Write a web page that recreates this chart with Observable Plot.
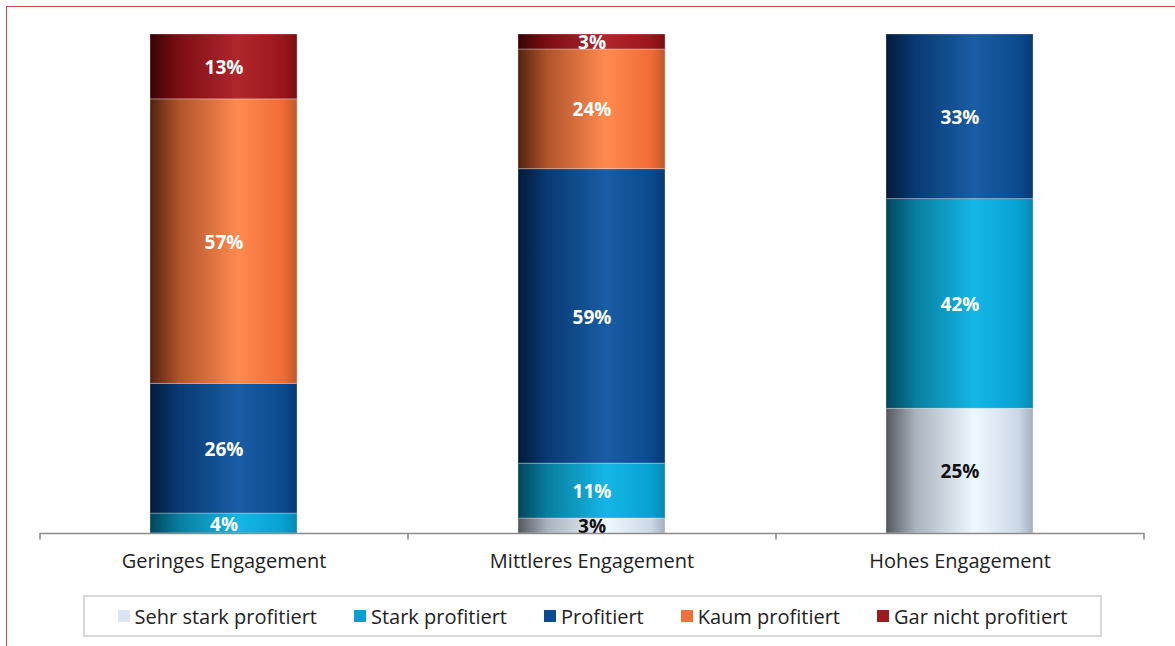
<!DOCTYPE html>
<html>
<head>
<meta charset="utf-8">
<script src="https://cdn.jsdelivr.net/npm/d3@7"></script>
<script src="https://cdn.jsdelivr.net/npm/@observablehq/plot@0.6"></script>
<style>
  html, body { margin: 0; padding: 0; background: #fff; overflow: hidden; }
  body { width: 1175px; height: 646px; position: relative; font-family: "Open Sans", sans-serif; }
  #frame { position: absolute; left: 6px; top: 6px; width: 1300px; height: 800px; border: 1.5px solid #c0504d; box-sizing: border-box; }
  #chart { position: absolute; left: 0; top: 0; }
  #legend { position: absolute; left: 83px; top: 595px; width: 1019px; height: 42px; box-sizing: border-box;
    border: 2px solid #d9d9d9; background: #fff; display: flex; align-items: center; justify-content: center; gap: 37px;
    font-size: 20px; color: #222; }
  #legend .item { display: flex; align-items: center; gap: 5px; }
  #legend .sw { width: 12px; height: 12px; display: inline-block; }
</style>
</head>
<body>
<div id="frame"></div>
<div id="chart"></div>
<div id="legend"></div>
<svg width="0" height="0" style="position:absolute">
  <defs id="gdefs"></defs>
</svg>
<script>
// ---- data ----
const categories = ["Geringes Engagement", "Mittleres Engagement", "Hohes Engagement"];
const series = ["Sehr stark profitiert", "Stark profitiert", "Profitiert", "Kaum profitiert", "Gar nicht profitiert"];
const sehrStark = [0, 3, 25];
const stark = [4, 11, 42];
const profitiert = [26, 59, 33];
const kaum = [57, 24, 0];
const garNicht = [13, 3, 0];
const legendColors = ["#dce6f2", "#0aa0d0", "#0c4a93", "#f0703a", "#a0191e"];
const labelColors = ["#111", "#fff", "#fff", "#fff", "#fff"];
// gradient stops per series: [left dark, mid-dark, highlight, base, right edge]
const gradients = [
  ["#55585e", "#a9b2bd", "#eef8ff", "#ccd8e6", "#a4afbd"],
  ["#03455a", "#087f9f", "#14b6e6", "#06a2d2", "#0688b3"],
  ["#031a38", "#083a73", "#1a5da4", "#0a4a90", "#073a75"],
  ["#52240f", "#b0542b", "#ff8a4f", "#ef6c35", "#c4582b"],
  ["#380406", "#7d0e13", "#b1262d", "#9a161c", "#7a0f14"]
];

const valuesBySeries = [sehrStark, stark, profitiert, kaum, garNicht];
const data = [];
series.forEach((s, si) => categories.forEach((c, ci) => {
  data.push({category: c, series: s, value: valuesBySeries[si][ci], si});
}));

// gradient defs
const defs = d3.select("#gdefs");
gradients.forEach((g, i) => {
  const lg = defs.append("linearGradient").attr("id", "grad" + i).attr("x1", 0).attr("x2", 1).attr("y1", 0).attr("y2", 0);
  [0, 0.2, 0.6, 0.9, 1].forEach((o, k) => lg.append("stop").attr("offset", o).attr("stop-color", g[k]));
});

const stackOpts = {x: "category", y: "value", z: "series", order: series};

const chart = Plot.plot({
  width: 1175,
  height: 582,
  marginLeft: 40,
  marginRight: 31,
  marginTop: 34,
  marginBottom: 49,
  style: {fontFamily: "'Open Sans', sans-serif", background: "transparent", overflow: "visible"},
  x: {domain: categories, paddingInner: 0.6, paddingOuter: 0.3, label: null},
  y: {domain: [0, 100], axis: null},
  color: {type: "ordinal", domain: series, range: series.map((s, i) => `url(#grad${i})`)},
  marks: [
    Plot.barY(data, Plot.stackY({...stackOpts, fill: "series", stroke: "rgba(255,255,255,0.35)", strokeWidth: 0.8})),
    Plot.text(data, Plot.stackY({...stackOpts,
      filter: d => d.value > 0,
      text: d => d.value + "%",
      fill: d => labelColors[d.si],
      dy: 1,
      fontWeight: "bold", fontSize: 19})),
    Plot.ruleY([0], {stroke: "#8c8c8c", strokeWidth: 1.6}),
    Plot.ruleX(categories, {x: d => d, dx: -184, y1: 0, y2: -1.3, stroke: "#8c8c8c", strokeWidth: 1.6}),
    Plot.ruleX(categories.slice(-1), {x: d => d, dx: 184, y1: 0, y2: -1.3, stroke: "#8c8c8c", strokeWidth: 1.6}),
    Plot.axisX({tickSize: 0, tickPadding: 20, fontSize: 20, fill: "#222", label: null})
  ]
});
document.getElementById("chart").appendChild(chart);

// legend
const legend = d3.select("#legend");
series.forEach((s, i) => {
  const it = legend.append("div").attr("class", "item");
  it.append("span").attr("class", "sw").style("background", legendColors[i]);
  it.append("span").text(s);
});
</script>
</body>
</html>
